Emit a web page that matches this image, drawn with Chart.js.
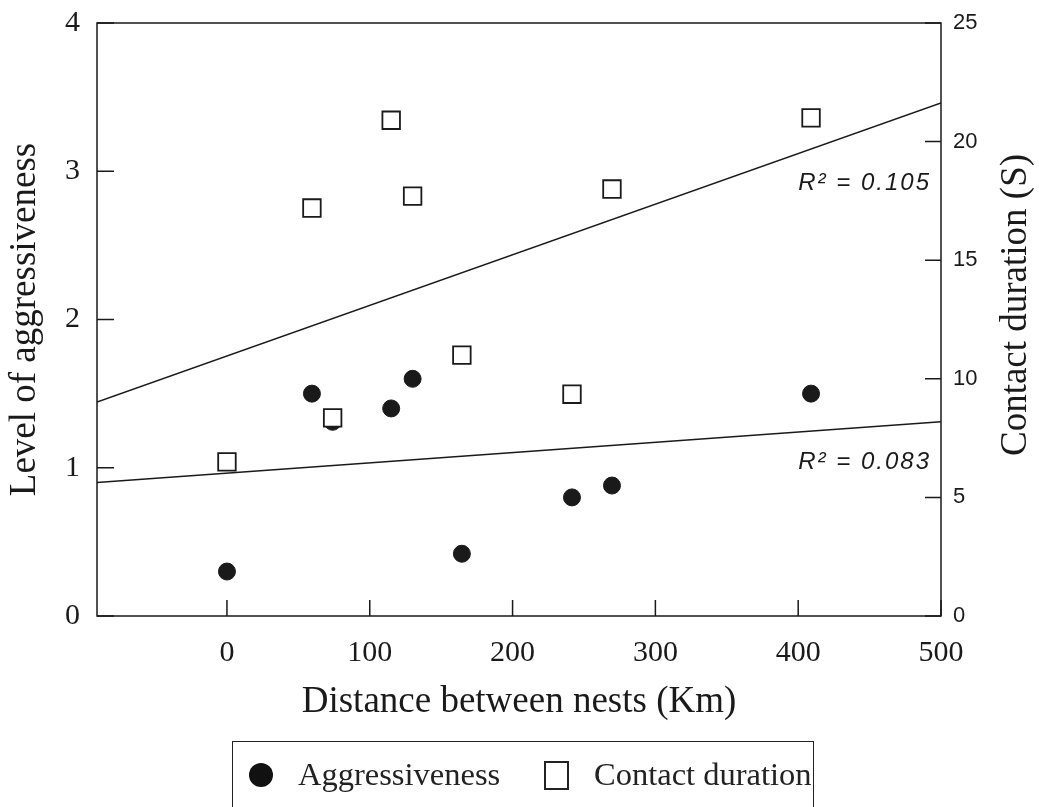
<!DOCTYPE html>
<html>
<head>
<meta charset="utf-8">
<script src="https://cdn.jsdelivr.net/npm/chart.js@4"></script>
<style>
  body { margin: 0; background: #fff; }
  #wrap { position: relative; width: 1039px; height: 807px; overflow: hidden; }
  #legend {
    position: absolute; left: 232px; top: 741px; width: 582px; height: 100px;
    border: 1.5px solid #222; box-sizing: border-box;
    font-family: "Liberation Serif", "Times New Roman", serif; font-size: 32.5px; color: #222;
  }
  #legend .item { position: absolute; top: 12px; line-height: 40px; white-space: nowrap; }
  #legend .dot { position: absolute; left: 16px; top: 21px; width: 24px; height: 24px; border-radius: 50%; background: #111; }
  #legend .box { position: absolute; left: 311px; top: 19px; width: 25px; height: 29px; border: 2px solid #222; box-sizing: border-box; }
</style>
</head>
<body>
<div id="wrap">
  <canvas id="chart"></canvas>
  <div id="legend">
    <span class="dot"></span><span class="item" style="left:65px">Aggressiveness</span>
    <span class="box"></span><span class="item" style="left:361px">Contact duration</span>
  </div>
</div>
<script>
// distance between nests (km), same nests for both measures
const distances = [0, 59.5, 74, 115, 130, 164.5, 241.6, 269.6, 409];
const aggressiveness = [0.30, 1.50, 1.31, 1.40, 1.60, 0.42, 0.80, 0.88, 1.50];
const contactDuration = [6.5, 17.2, 8.35, 20.9, 17.7, 11.0, 9.35, 18.0, 21.0];

// linear fits, read at the ends of the x range
const trendX = [-91, 500];
const aggTrend = [0.90, 1.31];
const contactTrend = [9.02, 21.63];

const xTicks = [0, 100, 200, 300, 400, 500];
const yTicks = [0, 1, 2, 3, 4];
const y2Ticks = [0, 5, 10, 15, 20, 25];
const r2Labels = ['R² = 0.105', 'R² = 0.083'];

const serif = "'Liberation Serif', 'Times New Roman', serif";
const sans = "'Liberation Sans', Arial, sans-serif";
const ink = '#1a1a1a';

Chart.defaults.font.family = serif;
Chart.defaults.color = ink;

const toPoints = (xs, ys) => xs.map((x, i) => ({ x, y: ys[i] }));

// keep tick labels from pushing the plot area around
const noOverflow = s => { s.paddingTop = 0; s.paddingBottom = 0; };

// frame, inward tick marks, r² notes and the right-hand title
const decor = {
    id: 'decor',
    afterDatasetsDraw(chart) {
        const { ctx, chartArea: a, scales } = chart;
        ctx.save();
        ctx.strokeStyle = ink;
        ctx.lineWidth = 1.5;
        ctx.strokeRect(a.left, a.top, a.right - a.left, a.bottom - a.top);

        ctx.beginPath();
        xTicks.forEach(v => {
            const p = scales.x.getPixelForValue(v);
            ctx.moveTo(p, a.bottom);
            ctx.lineTo(p, a.bottom - 16);
        });
        yTicks.forEach(v => {
            const p = scales.y.getPixelForValue(v);
            ctx.moveTo(a.left, p);
            ctx.lineTo(a.left + 17, p);
        });
        y2Ticks.forEach(v => {
            const p = scales.y2.getPixelForValue(v);
            ctx.moveTo(a.right, p);
            ctx.lineTo(a.right - 16, p);
        });
        ctx.stroke();

        ctx.fillStyle = ink;
        ctx.font = 'italic 24px ' + sans;
        ctx.letterSpacing = '2px';
        ctx.textAlign = 'right';
        ctx.textBaseline = 'middle';
        ctx.fillText(r2Labels[0], a.right - 10, 183);
        ctx.fillText(r2Labels[1], a.right - 10, 462);

        ctx.letterSpacing = '0px';
        ctx.font = '37px ' + serif;
        ctx.textAlign = 'center';
        ctx.translate(1016, 305);
        ctx.rotate(-Math.PI / 2);
        ctx.fillText('Contact duration (S)', 0, 0);
        ctx.restore();
    }
};

new Chart(document.getElementById('chart'), {
    type: 'scatter',
    data: {
        datasets: [
            {
                label: 'Contact duration',
                data: toPoints(distances, contactDuration),
                yAxisID: 'y2',
                pointStyle: 'rect',
                pointRadius: 12.4,
                borderWidth: 1.8,
                borderColor: ink,
                backgroundColor: '#fff',
                order: 1
            },
            {
                label: 'Aggressiveness',
                data: toPoints(distances, aggressiveness),
                yAxisID: 'y',
                pointStyle: 'circle',
                pointRadius: 8.5,
                borderWidth: 1,
                borderColor: ink,
                backgroundColor: ink,
                order: 2
            },
            {
                label: 'Contact trend',
                data: toPoints(trendX, contactTrend),
                yAxisID: 'y2',
                showLine: true,
                pointRadius: 0,
                borderWidth: 1.5,
                borderColor: ink,
                order: 3
            },
            {
                label: 'Aggressiveness trend',
                data: toPoints(trendX, aggTrend),
                yAxisID: 'y',
                showLine: true,
                pointRadius: 0,
                borderWidth: 1.5,
                borderColor: ink,
                order: 3
            }
        ]
    },
    options: {
        responsive: true,
        maintainAspectRatio: false,
        animation: false,
        layout: { padding: { top: 23, left: 0, right: 0, bottom: 0 } },
        plugins: {
            legend: { display: false },
            tooltip: { enabled: false }
        },
        scales: {
            x: {
                type: 'linear',
                min: -91,
                max: 500,
                afterBuildTicks: s => { s.ticks = xTicks.map(v => ({ value: v })); },
                afterFit: s => { s.height = 191; },
                grid: { display: false, drawTicks: false },
                border: { display: false },
                ticks: { font: { size: 30 }, padding: 19, color: ink, maxRotation: 0 },
                title: {
                    display: true,
                    text: 'Distance between nests (Km)',
                    font: { size: 37 },
                    color: ink,
                    padding: { top: 0, bottom: 83 }
                }
            },
            y: {
                position: 'left',
                min: 0,
                max: 4,
                afterBuildTicks: s => { s.ticks = yTicks.map(v => ({ value: v })); },
                afterFit: s => { s.width = 97; noOverflow(s); },
                grid: { display: false, drawTicks: false },
                border: { display: false },
                ticks: { font: { size: 30 }, padding: 17, color: ink },
                title: {
                    display: true,
                    text: 'Level of aggressiveness',
                    font: { size: 37 },
                    color: ink,
                    padding: { top: 3, bottom: 0 }
                }
            },
            y2: {
                position: 'right',
                min: 0,
                max: 25,
                afterBuildTicks: s => { s.ticks = y2Ticks.map(v => ({ value: v })); },
                afterFit: s => { s.width = 98; noOverflow(s); },
                grid: { display: false, drawTicks: false },
                border: { display: false },
                ticks: { font: { size: 22, family: sans }, padding: 12, color: ink }
            }
        }
    },
    plugins: [decor]
});
</script>
</body>
</html>
